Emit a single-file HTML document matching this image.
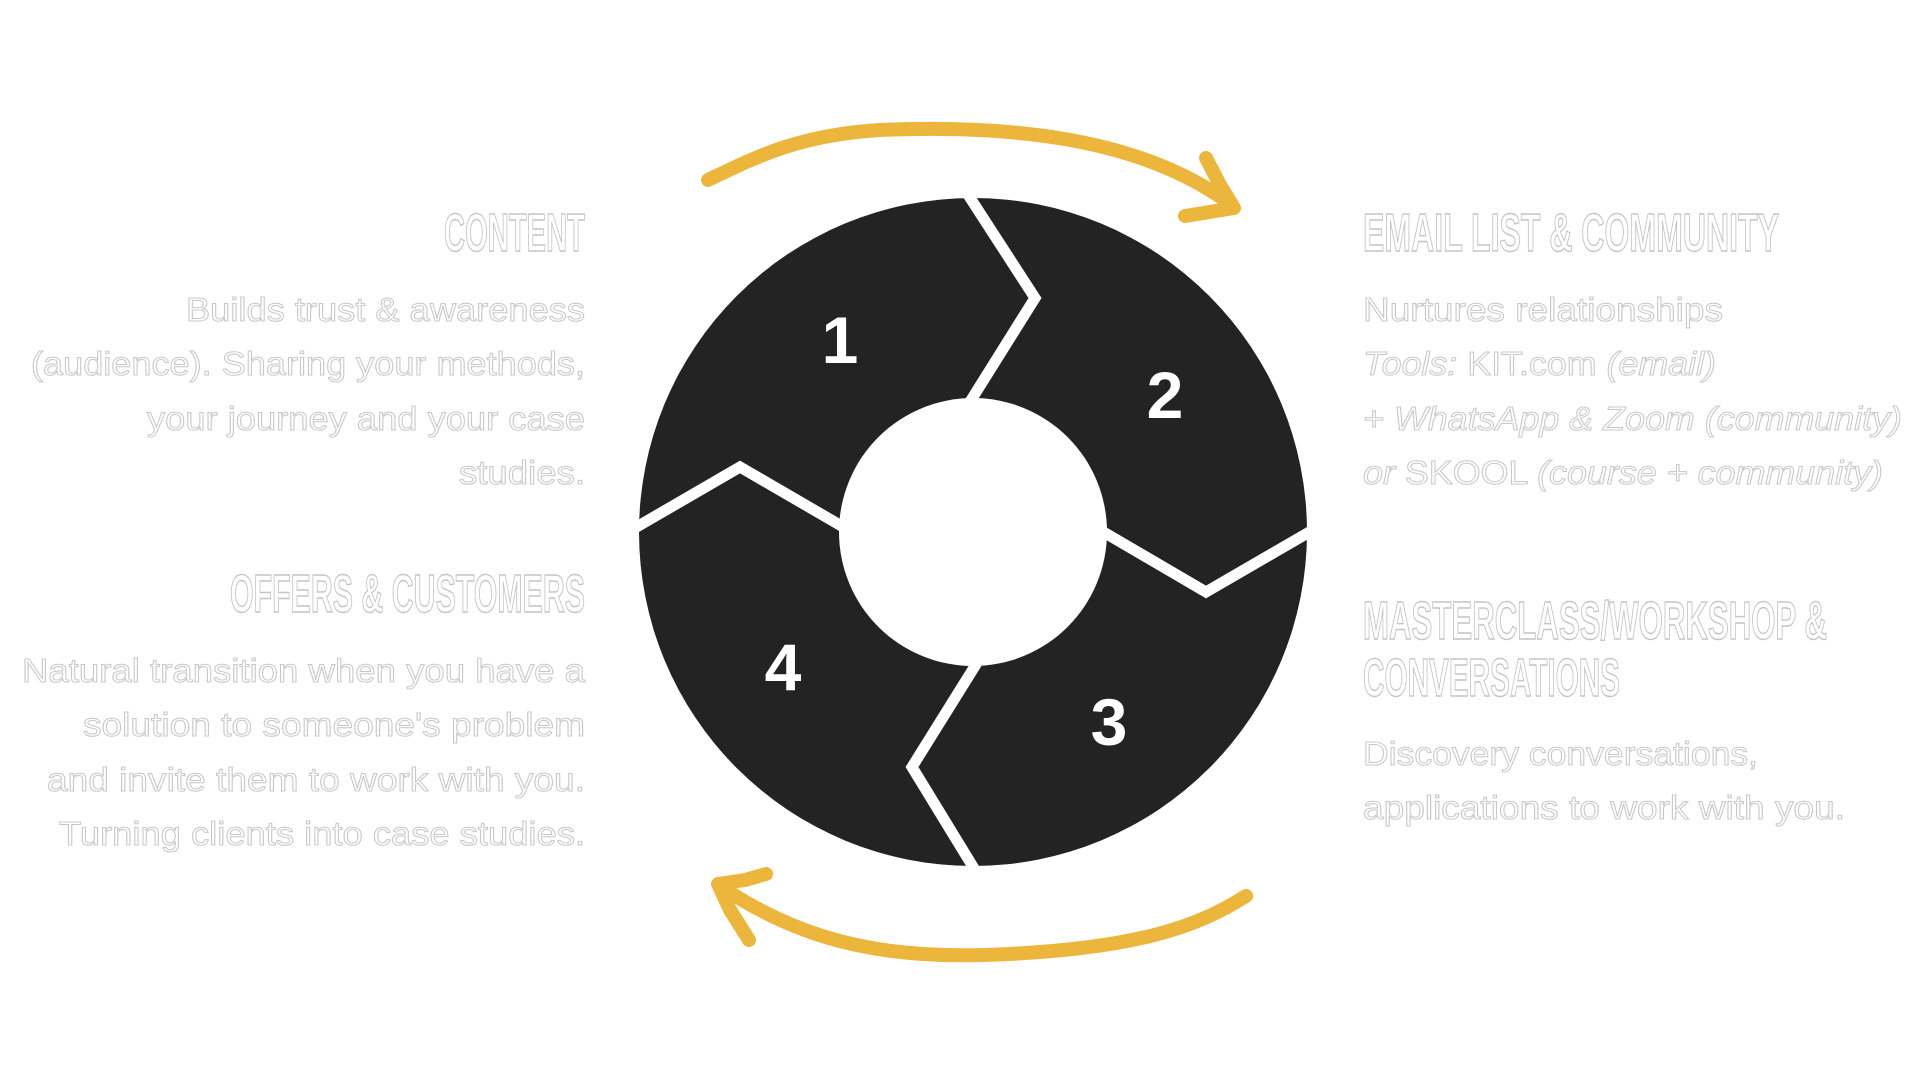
<!DOCTYPE html>
<html><head><meta charset="utf-8"><style>
html,body{margin:0;padding:0;background:#fff;width:1920px;height:1080px;overflow:hidden}
svg{display:block}
.h{font-family:"Liberation Sans Narrow","Liberation Sans",sans-serif;font-weight:bold;font-size:54px;fill:#fff;stroke:#c4c4c4;stroke-width:1.4}
.b{font-family:"Liberation Sans",sans-serif;font-size:33px;fill:#fff;stroke:#c8c8c8;stroke-width:1}
.n{font-family:"Liberation Sans Narrow","Liberation Sans",sans-serif;font-weight:bold;font-size:66px;fill:#fff}
</style></head><body>
<svg width="1920" height="1080" viewBox="0 0 1920 1080" xmlns="http://www.w3.org/2000/svg">
<circle cx="973" cy="532" r="334" fill="#232323"/>
<circle cx="973" cy="532" r="134" fill="#fff"/>
<g fill="none" stroke="#fff" stroke-width="11" stroke-linejoin="miter" stroke-linecap="butt">
<polyline points="965,190 1035,298 968,405"/>
<polyline points="1100,530 1206,592 1318,527"/>
<polyline points="980,658 912,767 978,875"/>
<polyline points="628,532 740,467 845,528"/>
</g>
<text class="n" x="840" y="363" text-anchor="middle">1</text>
<text class="n" x="1165" y="418" text-anchor="middle">2</text>
<text class="n" x="1109" y="745" text-anchor="middle">3</text>
<text class="n" x="783" y="690" text-anchor="middle">4</text>
<g fill="none" stroke="#ECB63C" stroke-width="14" stroke-linecap="round" stroke-linejoin="round">
<path d="M708,180 C760,155 800,135 880,130 C1000,125 1130,135 1222,198"/>
<path d="M1206,158 L1220,185 L1234,208 L1185,216"/>
<path d="M1246,896 C1200,925 1140,950 984,955 C880,958 800,940 720,886"/>
<path d="M766,874 L745,880 L718,884 L730,910 L749,940"/>
</g>
<text class="h" x="585" y="251" text-anchor="end" textLength="141" lengthAdjust="spacingAndGlyphs">CONTENT</text>
<text class="b" x="585" y="321" text-anchor="end" textLength="399" lengthAdjust="spacingAndGlyphs">Builds trust &amp; awareness</text>
<text class="b" x="585" y="375" text-anchor="end" textLength="554" lengthAdjust="spacingAndGlyphs">(audience). Sharing your methods,</text>
<text class="b" x="585" y="430" text-anchor="end" textLength="438" lengthAdjust="spacingAndGlyphs">your journey and your case</text>
<text class="b" x="585" y="484" text-anchor="end" textLength="126" lengthAdjust="spacingAndGlyphs">studies.</text>
<text class="h" x="585" y="612" text-anchor="end" textLength="355" lengthAdjust="spacingAndGlyphs">OFFERS &amp; CUSTOMERS</text>
<text class="b" x="585" y="682" text-anchor="end" textLength="563" lengthAdjust="spacingAndGlyphs">Natural transition when you have a</text>
<text class="b" x="585" y="736" text-anchor="end" textLength="502" lengthAdjust="spacingAndGlyphs">solution to someone's problem</text>
<text class="b" x="585" y="791" text-anchor="end" textLength="538" lengthAdjust="spacingAndGlyphs">and invite them to work with you.</text>
<text class="b" x="585" y="845" text-anchor="end" textLength="526" lengthAdjust="spacingAndGlyphs">Turning clients into case studies.</text>
<text class="h" x="1363" y="251" textLength="416" lengthAdjust="spacingAndGlyphs">EMAIL LIST &amp; COMMUNITY</text>
<text class="b" x="1363" y="321" textLength="360" lengthAdjust="spacingAndGlyphs">Nurtures relationships</text>
<text class="b" x="1363" y="375" textLength="353" lengthAdjust="spacingAndGlyphs"><tspan font-style="italic">Tools:</tspan> KIT.com <tspan font-style="italic">(email)</tspan></text>
<text class="b" x="1363" y="430" font-style="italic" textLength="539" lengthAdjust="spacingAndGlyphs">+ WhatsApp &amp; Zoom (community)</text>
<text class="b" x="1363" y="484" textLength="520" lengthAdjust="spacingAndGlyphs"><tspan font-style="italic">or</tspan>  SKOOL <tspan font-style="italic">(course + community)</tspan></text>
<text class="h" x="1363" y="639" textLength="464" lengthAdjust="spacingAndGlyphs">MASTERCLASS/WORKSHOP &amp;</text>
<text class="h" x="1363" y="696" textLength="257" lengthAdjust="spacingAndGlyphs">CONVERSATIONS</text>
<text class="b" x="1363" y="765" textLength="395" lengthAdjust="spacingAndGlyphs">Discovery conversations,</text>
<text class="b" x="1363" y="819" textLength="482" lengthAdjust="spacingAndGlyphs">applications to work with you.</text>
</svg>
</body></html>
